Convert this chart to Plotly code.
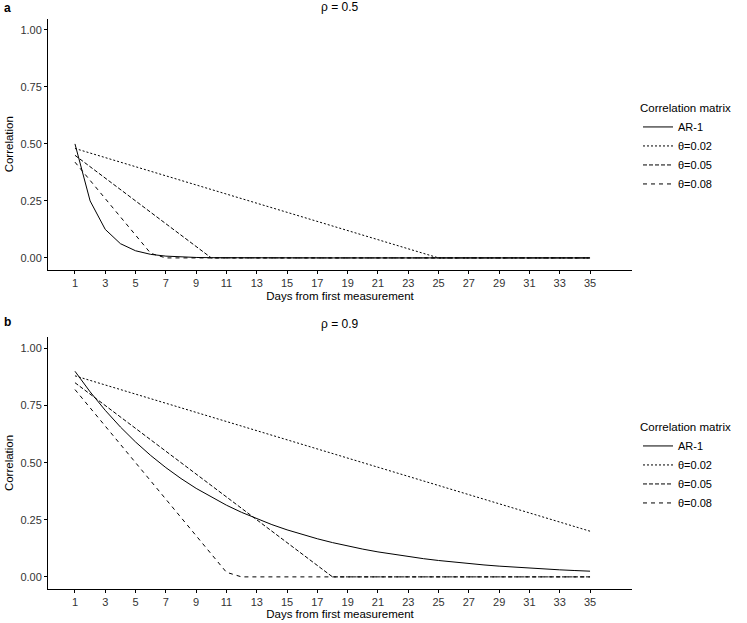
import plotly.graph_objects as go

days = list(range(1, 36))
x_ticks = list(range(1, 36, 2))
y_ticks = [0.0, 0.25, 0.5, 0.75, 1.0]
y_tick_labels = ["0.00", "0.25", "0.50", "0.75", "1.00"]
series_names = ["AR-1", "θ=0.02", "θ=0.05", "θ=0.08"]

# Panel a: rho = 0.5
a_ar1 = [0.5, 0.25, 0.125, 0.0625, 0.0313, 0.0156, 0.0078, 0.0039, 0.002, 0.001,
         0.0005, 0.0002, 0.0001, 0, 0, 0, 0, 0, 0, 0,
         0, 0, 0, 0, 0, 0, 0, 0, 0, 0,
         0, 0, 0, 0, 0]
a_t002 = [0.48, 0.46, 0.44, 0.42, 0.40, 0.38, 0.36, 0.34, 0.32, 0.30,
          0.28, 0.26, 0.24, 0.22, 0.20, 0.18, 0.16, 0.14, 0.12, 0.10,
          0.08, 0.06, 0.04, 0.02, 0, 0, 0, 0, 0, 0,
          0, 0, 0, 0, 0]
a_t005 = [0.45, 0.40, 0.35, 0.30, 0.25, 0.20, 0.15, 0.10, 0.05, 0,
          0, 0, 0, 0, 0, 0, 0, 0, 0, 0,
          0, 0, 0, 0, 0, 0, 0, 0, 0, 0,
          0, 0, 0, 0, 0]
a_t008 = [0.42, 0.34, 0.26, 0.18, 0.10, 0.02, 0, 0, 0, 0,
          0, 0, 0, 0, 0, 0, 0, 0, 0, 0,
          0, 0, 0, 0, 0, 0, 0, 0, 0, 0,
          0, 0, 0, 0, 0]

# Panel b: rho = 0.9
b_ar1 = [0.9, 0.81, 0.729, 0.6561, 0.5905, 0.5314, 0.4783, 0.4305, 0.3874, 0.3487,
         0.3138, 0.2824, 0.2542, 0.2288, 0.2059, 0.1853, 0.1668, 0.1501, 0.1351, 0.1216,
         0.1094, 0.0985, 0.0886, 0.0798, 0.0718, 0.0646, 0.0581, 0.0523, 0.0471, 0.0424,
         0.0382, 0.0343, 0.0309, 0.0278, 0.0250]
b_t002 = [0.88, 0.86, 0.84, 0.82, 0.80, 0.78, 0.76, 0.74, 0.72, 0.70,
          0.68, 0.66, 0.64, 0.62, 0.60, 0.58, 0.56, 0.54, 0.52, 0.50,
          0.48, 0.46, 0.44, 0.42, 0.40, 0.38, 0.36, 0.34, 0.32, 0.30,
          0.28, 0.26, 0.24, 0.22, 0.20]
b_t005 = [0.85, 0.80, 0.75, 0.70, 0.65, 0.60, 0.55, 0.50, 0.45, 0.40,
          0.35, 0.30, 0.25, 0.20, 0.15, 0.10, 0.05, 0, 0, 0,
          0, 0, 0, 0, 0, 0, 0, 0, 0, 0,
          0, 0, 0, 0, 0]
b_t008 = [0.82, 0.74, 0.66, 0.58, 0.50, 0.42, 0.34, 0.26, 0.18, 0.10,
          0.02, 0, 0, 0, 0, 0, 0, 0, 0, 0,
          0, 0, 0, 0, 0, 0, 0, 0, 0, 0,
          0, 0, 0, 0, 0]

dashes = ["solid", "2px,2px", "4px,2px", "4px,4px"]
FONT = "Liberation Sans, Arial, sans-serif"

fig = go.Figure()
panels = [
    ("x", "y", "legend", [a_ar1, a_t002, a_t005, a_t008]),
    ("x2", "y2", "legend2", [b_ar1, b_t002, b_t005, b_t008]),
]
for xa, ya, lg, series in panels:
    for name, vals, dash in zip(series_names, series, dashes):
        fig.add_trace(go.Scatter(
            x=days, y=vals, mode="lines", name=name,
            line=dict(color="black", width=1, dash=dash),
            xaxis=xa, yaxis=ya, legend=lg,
        ))

W, H = 747, 623
xdom = [48 / W, 632 / W]
ya_dom = [1 - 270 / H, 1 - 18.5 / H]
yb_dom = [1 - 589 / H, 1 - 337 / H]

axis_common = dict(
    showline=True, linecolor="black", linewidth=1, showgrid=False, zeroline=False,
    ticks="outside", ticklen=3, tickcolor="black", tickwidth=1, automargin=False,
    tickfont=dict(family=FONT, size=11, color="#333333"),
)
title_font = dict(family=FONT, size=11.5, color="black")
xaxis_a = dict(axis_common, range=[-0.78, 37.77], tickvals=x_ticks,
               title=dict(text="Days from first measurement", standoff=3, font=title_font))
xaxis_b = dict(axis_common, range=[-0.78, 37.77], tickvals=x_ticks,
               title=dict(text="Days from first measurement", standoff=0, font=title_font))
yaxis_common = dict(axis_common, range=[-0.053, 1.05], tickvals=y_ticks, ticktext=y_tick_labels,
                    title=dict(text="Correlation", standoff=4, font=title_font))

legend_common = dict(
    title=dict(text="Correlation matrix", font=dict(family=FONT, size=11.5, color="black")),
    font=dict(family=FONT, size=11, color="black"),
    bgcolor="rgba(0,0,0,0)", itemwidth=30, tracegroupgap=0,
    xanchor="left", yanchor="middle",
)

fig.update_layout(
    width=W, height=H,
    margin=dict(l=0, r=0, t=0, b=0, autoexpand=False),
    plot_bgcolor="white", paper_bgcolor="white",
    font=dict(family=FONT, color="black"),
    xaxis=dict(xaxis_a, domain=xdom, anchor="y"),
    yaxis=dict(yaxis_common, domain=ya_dom, anchor="x"),
    xaxis2=dict(xaxis_b, domain=xdom, anchor="y2"),
    yaxis2=dict(yaxis_common, domain=yb_dom, anchor="x2"),
    legend=dict(legend_common, x=638 / W, y=1 - 148 / H),
    legend2=dict(legend_common, x=638 / W, y=1 - 467 / H),
    annotations=[
        dict(text="ρ = 0.5", x=(xdom[0] + xdom[1]) / 2, y=1 - 7 / H, xref="paper", yref="paper",
             showarrow=False, font=dict(family=FONT, size=12, color="black"), yanchor="middle"),
        dict(text="ρ = 0.9", x=(xdom[0] + xdom[1]) / 2, y=1 - 324 / H, xref="paper", yref="paper",
             showarrow=False, font=dict(family=FONT, size=12, color="black"), yanchor="middle"),
        dict(text="<b>a</b>", x=2 / W, y=1 - 8 / H, xref="paper", yref="paper", xanchor="left",
             showarrow=False, font=dict(family=FONT, size=12, color="black"), yanchor="middle"),
        dict(text="<b>b</b>", x=2 / W, y=1 - 322 / H, xref="paper", yref="paper", xanchor="left",
             showarrow=False, font=dict(family=FONT, size=12, color="black"), yanchor="middle"),
    ],
)

fig.write_html("out.html", config={"displayModeBar": False},
               post_script="document.body.style.margin='0';document.body.style.overflow='hidden';")
